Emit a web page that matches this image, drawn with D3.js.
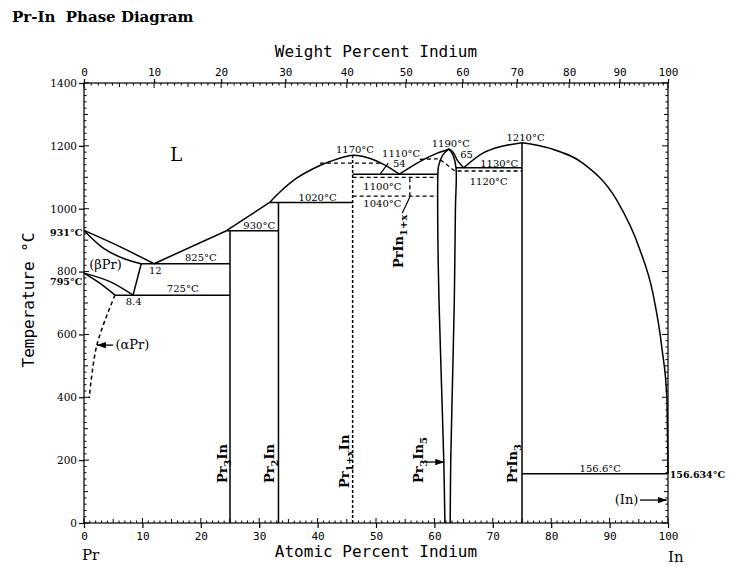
<!DOCTYPE html>
<meta charset='utf-8'>
<style>
body { margin: 0; background: #fff; }
.ph { fill: none; stroke: #000; stroke-width: 1.5; }
.dash { stroke-dasharray: 4,3; }
.lbl { font-family: 'DejaVu Serif'; fill: #000; }
</style>
<div id='chart'></div>
<script src='https://d3js.org/d3.v7.min.js'></script>
<script>
// axis ticks
var atTicks = [0,10,20,30,40,50,60,70,80,90,100];
var wtTicks = [0,10,20,30,40,50,60,70,80,90,100];
var tempTicks = [0,200,400,600,800,1000,1200,1400];
var M_PR = 140.9077, M_IN = 114.818;

// boundaries: [at.% In, temperature C]
var liqPr      = [[0,931],[5.6,884],[12,825]];
var solBetaPr  = [[0,931],[3.5,872],[7,840],[9.8,825]];
var solvBetaPr = [[9.8,825],[8.4,725]];
var transBeta  = [[0,795],[4.45,768],[8.4,725]];
var transAlpha = [[0,795],[2.7,763],[5.3,725]];
var solvAlphaPr = [[5.3,725],[2.2,566],[0.9,398]];
var liqPr3In   = [[12,825],[24.4,930]];
var liqPr2In   = [[24.4,930],[31.8,1020]];
var liqPrIn    = [[31.8,1020],[33.6,1054],[36.4,1097],[39.3,1128],[42.1,1150],[46,1170],[49,1160],[51.3,1141],[54,1110]];
var liqPr3In5L = [[54,1110],[57.5,1150],[60.4,1176],[62.1,1187],[62.5,1190]];
var liqPr3In5R = [[62.5,1190],[63.2,1180],[64,1152],[65,1130]];
var solPr3In5L = [[62.5,1190],[61.4,1170],[60.7,1135],[60.6,1110],[60.6,900],[60.8,700],[61.2,450],[61.6,200],[61.8,0]];
var solPr3In5R = [[62.5,1190],[63.2,1170],[63.7,1130],[63.6,1000],[63.4,700],[63.1,450],[62.8,200],[62.7,0]];
var liqPrIn3L  = [[65,1130],[68.3,1177],[71.2,1197],[75,1210]];
var liqPrIn3R  = [[75,1210],[79.8,1192],[85.4,1145],[91.2,1028],[95.2,869],[97.4,732],[99,550],[99.8,400],[100,156.634]];
var dashA      = [[40.4,1145],[51,1145]];
var dashB      = [[57.5,1157],[60.8,1159],[63.5,1120],[75,1120]];

// isotherms [T, from, to]
var solidIso  = [[825,9.8,25],[725,5.3,25],[930,24.4,33.3],[1020,31.8,46],[1110,46,60.6],[1130,63.7,75],[156.6,75,100]];
var dashedIso = [[1100,46,60.6],[1040,46,60.6]];
// compounds [at.%, top T]
var solidComp  = [[25,930],[33.3,1020],[75,1210]];
var dashedComp = [[46,1170]];
var boxEdge    = [[55.8,1040],[55.8,1100]];

// text labels [at.%, T, text]
var tempLabels = [
  [12.2,792,'12'],[8.5,694,'8.4'],[20,834,'825°C'],[16.9,735,'725°C'],[30,934,'930°C'],
  [40,1026,'1020°C'],[46.4,1176,'1170°C'],[54.3,1166,'1110°C'],[54,1133,'54'],
  [62.8,1195,'1190°C'],[65.5,1160,'65'],[75.6,1217,'1210°C'],[71.1,1134,'1130°C'],
  [69.3,1077,'1120°C'],[51.1,1061,'1100°C'],[51.1,1007,'1040°C'],[88.4,162,'156.6°C']
];
var sideLabels = [[-0.3,913,'931°C'],[-0.3,757,'795°C']];
var compLabels = [
  [24.5,127,[['Pr',0],['3',1],['In',0]]],
  [32.5,127,[['Pr',0],['2',1],['In',0]]],
  [45.4,111,[['Pr',0],['1+x',1],['In',0]]],
  [58.0,127,[['Pr',0],['3',1],['In',0],['5',1]]],
  [74.1,127,[['PrIn',0],['3',1]]],
  [54.6,811,[['PrIn',0],['1+x',1]]]
];

var x = d3.scaleLinear().domain([0,100]).range([84,668]);
var y = d3.scaleLinear().domain([0,1400]).range([523,83]);
function wtToAt(w) { var a = w / M_IN, b = (100 - w) / M_PR; return 100 * a / (a + b); }
var wtGrid = d3.range(0,101);
var xw = d3.scaleLinear().domain(wtGrid).range(wtGrid.map(function(w){ return x(wtToAt(w)); }));

var svg = d3.select('#chart').append('svg').attr('width',729).attr('height',567);

svg.append('defs').append('marker')
  .attr('id','arr').attr('viewBox','0 0 10 10').attr('refX',10).attr('refY',5)
  .attr('markerWidth',7).attr('markerHeight',7).attr('orient','auto')
  .append('path').attr('d','M0,1.5L10,5L0,8.5z').attr('fill','#000');

svg.append('text').attr('x',12).attr('y',22)
  .style('white-space','pre')
  .attr('font-family','DejaVu Serif').attr('font-weight','bold').attr('font-size',15)
  .text('Pr-In  Phase Diagram');

// frame
svg.append('rect').attr('x',x(0)).attr('y',y(1400)).attr('width',x(100)-x(0)).attr('height',y(0)-y(1400))
  .attr('fill','none').attr('stroke','#000').attr('stroke-width',1.2);

// axes
var fmt = d3.format('d');
function styleAxis(g, fam, size) {
  g.select('.domain').remove();
  g.selectAll('.tick line').attr('stroke-width',1.2);
  g.selectAll('text').attr('font-family',fam).attr('font-size',size);
}
svg.append('g').attr('transform','translate(0,' + y(0) + ')')
  .call(d3.axisBottom(x).tickValues(atTicks).tickFormat(fmt).tickSize(5).tickPadding(4))
  .call(styleAxis, 'DejaVu Sans Mono', 11);
svg.append('g').attr('transform','translate(0,' + y(1400) + ')')
  .call(d3.axisTop(xw).tickValues(wtTicks).tickFormat(fmt).tickSize(4).tickPadding(3))
  .call(styleAxis, 'DejaVu Sans Mono', 11);
svg.append('g').attr('transform','translate(' + x(0) + ',0)')
  .call(d3.axisLeft(y).tickValues(tempTicks).tickFormat(fmt).tickSize(5).tickPadding(2))
  .call(styleAxis, 'DejaVu Serif', 10.5);

// minor ticks
var ticks = svg.append('g').attr('stroke','#000').attr('stroke-width',1);
ticks.selectAll('.mb').data(d3.range(0,101)).enter().append('line')
  .attr('x1',x).attr('x2',x).attr('y1',y(0))
  .attr('y2',function(d){ return y(0) - (d % 10 === 0 ? 5 : d % 5 === 0 ? 4 : 2.5); });
ticks.selectAll('.mt').data(wtGrid).enter().append('line')
  .attr('x1',xw).attr('x2',xw).attr('y1',y(1400))
  .attr('y2',function(d){ return y(1400) + (d % 10 === 0 ? 5 : d % 5 === 0 ? 4 : 2.5); });
ticks.selectAll('.ml').data(d3.range(0,1401,20)).enter().append('line')
  .attr('y1',y).attr('y2',y).attr('x1',x(0))
  .attr('x2',function(d){ return x(0) + (d % 200 === 0 ? 5 : d % 100 === 0 ? 4 : 2.5); });
ticks.selectAll('.mr').data(d3.range(0,1401,20)).enter().append('line')
  .attr('y1',y).attr('y2',y).attr('x1',x(100))
  .attr('x2',function(d){ return x(100) - (d % 200 === 0 ? 6 : d % 100 === 0 ? 4 : 2.5); });

// axis titles
var mono = 'DejaVu Sans Mono';
svg.append('text').attr('x',376).attr('y',57).attr('text-anchor','middle')
  .attr('font-family',mono).attr('font-size',16).text('Weight Percent Indium');
svg.append('text').attr('x',376).attr('y',557).attr('text-anchor','middle')
  .attr('font-family',mono).attr('font-size',16).text('Atomic Percent Indium');
svg.append('text').attr('transform','translate(34,300) rotate(-90)').attr('text-anchor','middle')
  .attr('font-family',mono).attr('font-size',16).text('Temperature °C');
svg.append('text').attr('x',82).attr('y',560).attr('font-family','DejaVu Serif').attr('font-size',15).text('Pr');
svg.append('text').attr('x',668).attr('y',562).attr('font-family','DejaVu Serif').attr('font-size',15).text('In');

// phase boundaries
var plot = svg.append('g');
var line = d3.line().x(function(d){ return x(d[0]); }).y(function(d){ return y(d[1]); }).curve(d3.curveCatmullRom);
var lineL = d3.line().x(function(d){ return x(d[0]); }).y(function(d){ return y(d[1]); });
var lineM = d3.line().x(function(d){ return x(d[0]); }).y(function(d){ return y(d[1]); }).curve(d3.curveMonotoneX);

[liqPr, solBetaPr, solvBetaPr, transBeta, transAlpha, liqPr3In, liqPr2In, liqPrIn,
 liqPr3In5L, liqPr3In5R, solPr3In5L, solPr3In5R, liqPrIn3L].forEach(function(s){
  plot.append('path').attr('class','ph').attr('d', line(s));
});
plot.append('path').attr('class','ph').attr('d', lineM(liqPrIn3R));
plot.append('path').attr('class','ph dash').attr('d', line(solvAlphaPr));
[dashA, dashB].forEach(function(s){
  plot.append('path').attr('class','ph dash').style('stroke-width',1.3).attr('d', lineL(s));
});

plot.selectAll('.iso').data(solidIso).enter().append('line').attr('class','ph')
  .attr('x1',function(d){ return x(d[1]); }).attr('x2',function(d){ return x(d[2]); })
  .attr('y1',function(d){ return y(d[0]); }).attr('y2',function(d){ return y(d[0]); });
plot.selectAll('.isod').data(dashedIso).enter().append('line').attr('class','ph dash')
  .style('stroke-width',1.3)
  .attr('x1',function(d){ return x(d[1]); }).attr('x2',function(d){ return x(d[2]); })
  .attr('y1',function(d){ return y(d[0]); }).attr('y2',function(d){ return y(d[0]); });
plot.selectAll('.comp').data(solidComp).enter().append('line').attr('class','ph')
  .attr('x1',function(d){ return x(d[0]); }).attr('x2',function(d){ return x(d[0]); })
  .attr('y1',y(0)).attr('y2',function(d){ return y(d[1]); });
plot.selectAll('.compd').data(dashedComp).enter().append('line').attr('class','ph')
  .style('stroke-dasharray','3,2')
  .attr('x1',function(d){ return x(d[0]); }).attr('x2',function(d){ return x(d[0]); })
  .attr('y1',y(0)).attr('y2',function(d){ return y(d[1]); });
plot.append('path').attr('class','ph dash').style('stroke-width',1.3).attr('d', lineL(boxEdge));

// leaders and arrows
plot.append('path').attr('class','ph').style('stroke-width',1.2).attr('d', lineL([[52.1,1145],[50.7,1110]]));
plot.append('path').attr('class','ph').style('stroke-width',1.2).attr('d', lineL([[54.5,986],[55.8,1037]]));
[[[58.4,194],[61.7,194]], [[95.2,73],[99.8,73]], [[5.0,566],[2.2,566]]].forEach(function(s){
  plot.append('path').attr('class','ph').style('stroke-width',1.3).attr('marker-end','url(#arr)').attr('d', lineL(s));
});

// labels
svg.selectAll('.tl').data(tempLabels).enter().append('text').attr('class','lbl')
  .attr('font-size',10)
  .attr('x',function(d){ return x(d[0]); }).attr('y',function(d){ return y(d[1]); })
  .attr('text-anchor','middle').text(function(d){ return d[2]; });
svg.selectAll('.sl').data(sideLabels).enter().append('text').attr('class','lbl')
  .attr('font-weight','bold').attr('font-size',9.5)
  .attr('x',function(d){ return x(d[0]); }).attr('y',function(d){ return y(d[1]); })
  .attr('text-anchor','end').text(function(d){ return d[2]; });
svg.append('text').attr('class','lbl').attr('font-size',9.5).attr('x',x(100.3)).attr('y',y(143)).attr('font-weight','bold').text('156.634°C');
svg.append('text').attr('class','lbl').attr('font-size',13).attr('x',x(3.7)).attr('y',y(808)).attr('text-anchor','middle').text('(βPr)');
svg.append('text').attr('class','lbl').attr('font-size',13).attr('x',x(8.3)).attr('y',y(554)).attr('text-anchor','middle').text('(αPr)');
svg.append('text').attr('class','lbl').attr('font-size',13).attr('x',x(92.9)).attr('y',y(60)).attr('text-anchor','middle').text('(In)');
svg.append('text').attr('class','lbl').attr('font-size',18).attr('x',x(15.8)).attr('y',y(1152)).attr('text-anchor','middle').text('L');

compLabels.forEach(function(c){
  var t = svg.append('text').attr('class','lbl').attr('font-size',13).attr('font-weight','bold')
    .attr('transform','translate(' + x(c[0]) + ',' + y(c[1]) + ') rotate(-90)');
  var prev = 0;
  c[2].forEach(function(p){
    var shift = p[1] ? 4 : 0;
    t.append('tspan').attr('dy', shift - prev).attr('font-size', p[1] ? 10 : 13).text(p[0]);
    prev = shift;
  });
});
</script>
